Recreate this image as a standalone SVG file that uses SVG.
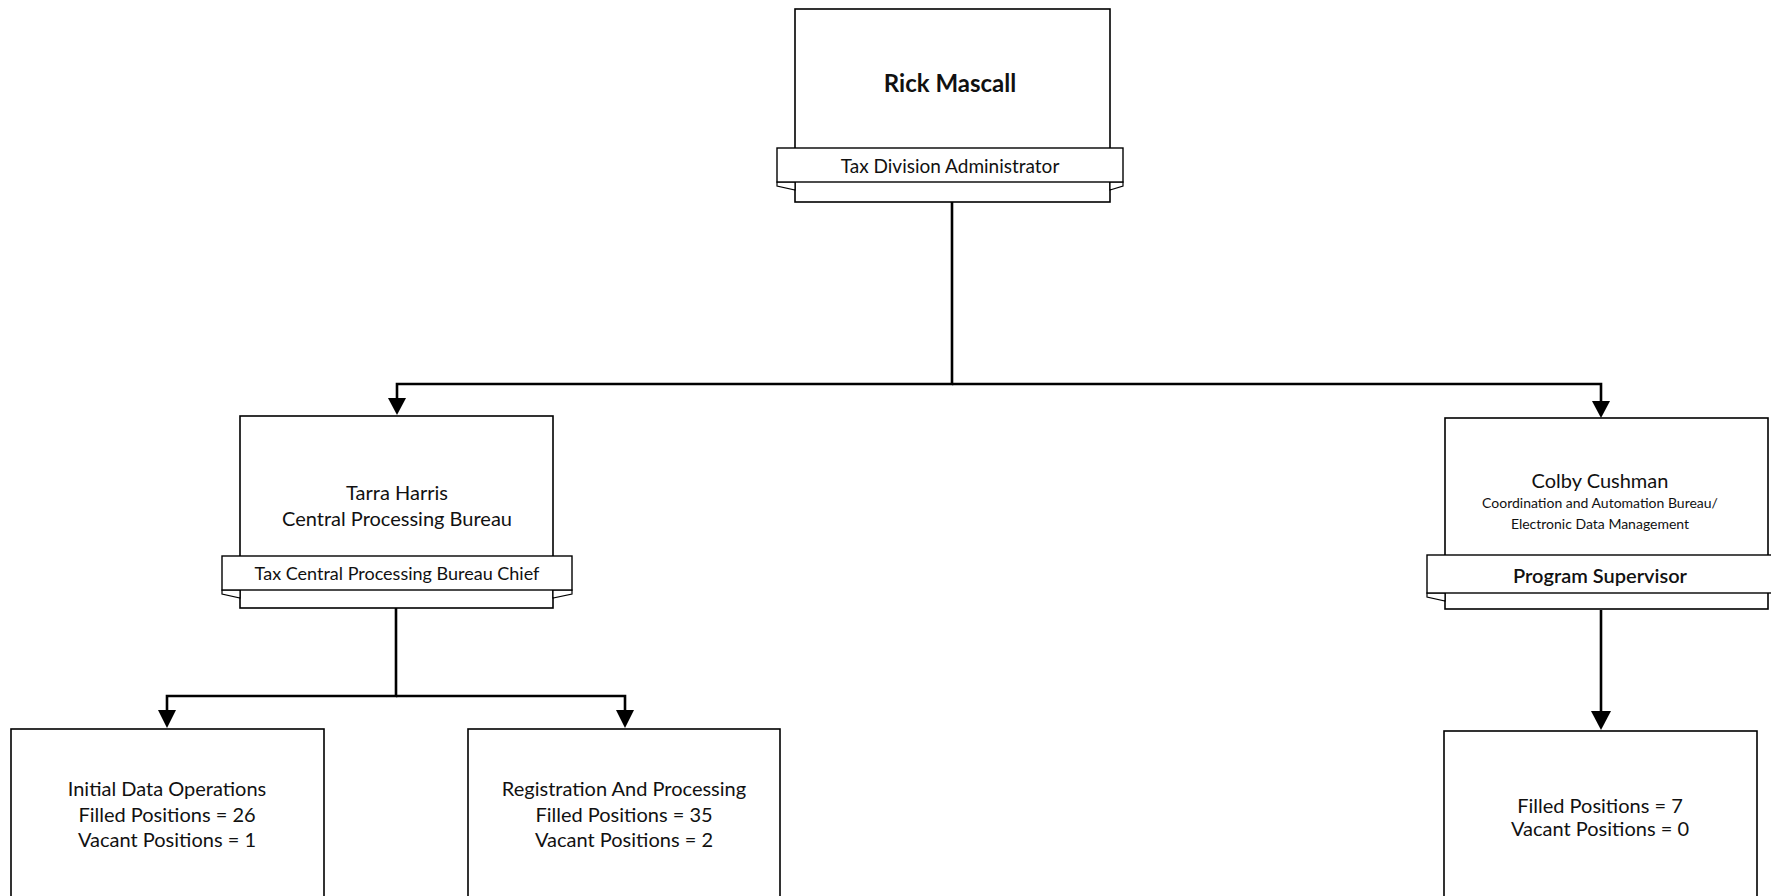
<svg xmlns="http://www.w3.org/2000/svg" width="1771" height="896" viewBox="0 0 1771 896">
<defs>
<style>
.box{fill:#fff;stroke:#000;stroke-width:1.6}
.band{fill:#fff;stroke:#000;stroke-width:1.4}
.fold{fill:#fff;stroke:#000;stroke-width:1.2}
.conn{fill:none;stroke:#000;stroke-width:2.6}
text{font-family:Lato,"Liberation Sans",sans-serif;fill:#111;text-anchor:middle;dominant-baseline:central}
.name{font-size:24px;font-weight:bold}
.t20{font-size:20px}
.t19{font-size:19px}
.t18{font-size:18px}
.t14{font-size:14px}
</style>
</defs>

<g id="connectors">
<path class="conn" d="M952,202 V384 H397 V398"/>
<path class="conn" d="M952,384 H1601 V401"/>
<path d="M388,398 L406,398 L397,415 Z" fill="#000"/>
<path d="M1592,401 L1610,401 L1601,418 Z" fill="#000"/>
<path class="conn" d="M396,608 V696 H167 V710"/>
<path class="conn" d="M396,696 H625 V710"/>
<path d="M158,710 L176,710 L167,728 Z" fill="#000"/>
<path d="M616,710 L634,710 L625,728 Z" fill="#000"/>
<path class="conn" d="M1601,610 V712"/>
<path d="M1591,711 L1611,711 L1601,730 Z" fill="#000"/>
</g>

<g id="rick">
<rect class="box" x="795" y="9" width="315" height="193"/>
<polygon class="fold" points="777,182 777,186 795,190 795,182"/>
<polygon class="fold" points="1123,182 1123,186 1110,190 1110,182"/>
<rect class="band" x="777" y="148" width="346" height="34"/>
<text class="name" x="950" y="82">Rick Mascall</text>
<text class="t19" x="950" y="165">Tax Division Administrator</text>
</g>

<g id="tarra">
<rect class="box" x="240" y="416" width="313" height="192"/>
<polygon class="fold" points="222,590 222,594 240,598 240,590"/>
<polygon class="fold" points="572,590 572,594 553,598 553,590"/>
<rect class="band" x="222" y="556" width="350" height="34"/>
<text class="t20" x="397" y="492">Tarra Harris</text>
<text class="t20" x="397" y="518">Central Processing Bureau</text>
<text class="t18" x="397" y="573">Tax Central Processing Bureau Chief</text>
</g>

<g id="colby">
<rect class="box" x="1445" y="418" width="323" height="191"/>
<polygon class="fold" points="1427,593 1427,597 1445,601 1445,593"/>
<rect class="band" x="1427" y="555" width="346" height="38"/>
<text class="t20" x="1600" y="480">Colby Cushman</text>
<text class="t14" x="1600" y="502">Coordination and Automation Bureau/</text>
<text class="t14" x="1600" y="523">Electronic Data Management</text>
<text class="t20" x="1600" y="575" style="font-weight:600">Program Supervisor</text>
</g>

<g id="initial">
<rect class="box" x="11" y="729" width="313" height="180"/>
<text class="t20" x="167" y="788">Initial Data Operations</text>
<text class="t20" x="167" y="814">Filled Positions = 26</text>
<text class="t20" x="167" y="839">Vacant Positions = 1</text>
</g>

<g id="registration">
<rect class="box" x="468" y="729" width="312" height="180"/>
<text class="t20" x="624" y="788">Registration And Processing</text>
<text class="t20" x="624" y="814">Filled Positions = 35</text>
<text class="t20" x="624" y="839">Vacant Positions = 2</text>
</g>

<g id="cab">
<rect class="box" x="1444" y="731" width="313" height="180"/>
<text class="t20" x="1600" y="805">Filled Positions = 7</text>
<text class="t20" x="1600" y="828">Vacant Positions = 0</text>
</g>
</svg>
